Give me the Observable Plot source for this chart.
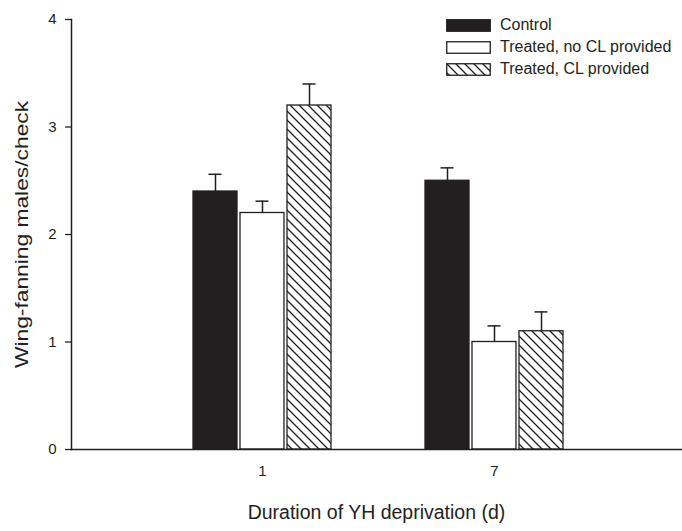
<!DOCTYPE html>
<html>
<head>
<meta charset="utf-8">
<script src="https://cdn.jsdelivr.net/npm/d3@7"></script>
<script src="https://cdn.jsdelivr.net/npm/@observablehq/plot@0.6"></script>
<style>
  html, body { margin: 0; padding: 0; background: #fff; }
  #wrap { position: relative; width: 682px; height: 531px; font-family: "Liberation Sans", Arial, sans-serif; color: #231f20; }
  #chart, #yaxis { position: absolute; left: 0; top: 0; }
  #yaxis { pointer-events: none; }
  #legend { position: absolute; left: 446px; top: 14px; font-size: 16px; }
  #legend .row { display: flex; align-items: center; height: 22px; }
  #legend svg { margin-right: 9px; }
  #xlabel { position: absolute; left: 71px; width: 611px; top: 501px; text-align: center; font-size: 19.5px; }
</style>
</head>
<body>
<div id="wrap">
  <div id="chart"></div>
  <div id="yaxis"></div>
  <div id="legend"></div>
  <div id="xlabel"></div>
</div>
<script>
const groups = ["1", "7"];
const treatments = ["Control", "Treated, no CL provided", "Treated, CL provided"];
const controlMeans = [2.4, 2.5];
const controlSE = [0.16, 0.12];
const noCLMeans = [2.2, 1.0];
const noCLSE = [0.11, 0.15];
const clMeans = [3.2, 1.1];
const clSE = [0.2, 0.18];
const yTicks = [0, 1, 2, 3, 4];
const xTitle = "Duration of YH deprivation (d)";
const yTitle = "Wing-fanning males/check";

const seriesMeans = [controlMeans, noCLMeans, clMeans];
const seriesSE = [controlSE, noCLSE, clSE];
const data = [];
groups.forEach((g, gi) => {
  treatments.forEach((t, ti) => {
    data.push({group: g, treatment: t, mean: seriesMeans[ti][gi], se: seriesSE[ti][gi]});
  });
});

const ink = "#231f20";
const fills = [ink, "#ffffff", "url(#hatch)"];
const common = {
  width: 682,
  height: 490,
  marginTop: 19,
  marginBottom: 41,
  marginLeft: 71,
  marginRight: 1,
  y: {domain: [0, 4], axis: null}
};

const chart = Plot.plot({
  ...common,
  style: {fontFamily: "Liberation Sans, Arial, sans-serif", fontSize: "15px", color: ink, background: "#fff"},
  fx: {domain: groups, paddingInner: 0.405, paddingOuter: 0.515, align: 0.51, label: null},
  x: {domain: treatments, paddingInner: 0.064, paddingOuter: 0, axis: null},
  color: {domain: treatments, range: fills},
  marks: [
    Plot.barY(data, {fx: "group", x: "treatment", y: "mean", fill: "treatment", stroke: ink, strokeWidth: 1.3}),
    Plot.ruleX(data, {fx: "group", x: "treatment", y1: "mean", y2: d => d.mean + d.se, stroke: ink, strokeWidth: 1.5}),
    Plot.tickY(data, {fx: "group", x: "treatment", y: d => d.mean + d.se, insetLeft: 15.5, insetRight: 15.5, stroke: ink, strokeWidth: 1.5}),
    Plot.axisFx({anchor: "bottom", tickSize: 0, tickPadding: 16, fontSize: 15, label: null})
  ]
});

d3.select(chart).insert("defs", ":first-child").html(
  `<pattern id="hatch" patternUnits="userSpaceOnUse" width="9" height="9">
     <rect width="9" height="9" fill="#fff"/>
     <path d="M0,0 L9,9 M-3,6 L3,12 M6,-3 L12,3" stroke="${ink}" stroke-width="1.3"/>
   </pattern>`
);
d3.select(chart).selectAll("g[aria-label='fx-axis tick label'], g[aria-label='fx-axis tick label'] text")
  .style("font-size", "15px");
document.getElementById("chart").appendChild(chart);

const yaxis = Plot.plot({
  ...common,
  style: {fontFamily: "Liberation Sans, Arial, sans-serif", fontSize: "15px", color: ink, background: "transparent"},
  marks: [
    Plot.axisY({ticks: yTicks, tickFormat: "d", tickSize: 6, tickPadding: 9, fontSize: 15, stroke: ink, strokeWidth: 1.3,
      label: yTitle, labelArrow: false, labelAnchor: "center", labelOffset: 57}),
    Plot.frame({anchor: "left", stroke: ink, strokeWidth: 1.5}),
    Plot.frame({anchor: "bottom", stroke: ink, strokeWidth: 1.5})
  ]
});
d3.select(yaxis).selectAll("g[aria-label='y-axis tick label'], g[aria-label='y-axis tick label'] text")
  .style("font-size", "15px");
d3.select(yaxis).selectAll("g[aria-label='y-axis label'], g[aria-label='y-axis label'] text").style("font-size", "19px");
d3.select(yaxis).selectAll("g[aria-label='y-axis label'] text").each(function() {
  const tr = this.getAttribute("transform") || "";
  this.setAttribute("transform", tr + " scale(1.2,1)");
});
document.getElementById("yaxis").appendChild(yaxis);

// legend
const legend = d3.select("#legend");
treatments.forEach((t, i) => {
  const row = legend.append("div").attr("class", "row");
  const s = row.append("svg").attr("width", 45).attr("height", 13);
  if (i === 2) {
    s.append("defs").html(`<pattern id="hatchL" patternUnits="userSpaceOnUse" width="9" height="9">
      <rect width="9" height="9" fill="#fff"/>
      <path d="M0,0 L9,9 M-3,6 L3,12 M6,-3 L12,3" stroke="${ink}" stroke-width="1.3"/></pattern>`);
  }
  s.append("rect").attr("x", 0.75).attr("y", 0.75).attr("width", 43.5).attr("height", 11.5)
    .attr("fill", i === 2 ? "url(#hatchL)" : fills[i]).attr("stroke", ink).attr("stroke-width", 1.3);
  row.append("span").text(t);
});
document.getElementById("xlabel").textContent = xTitle;
</script>
</body>
</html>
